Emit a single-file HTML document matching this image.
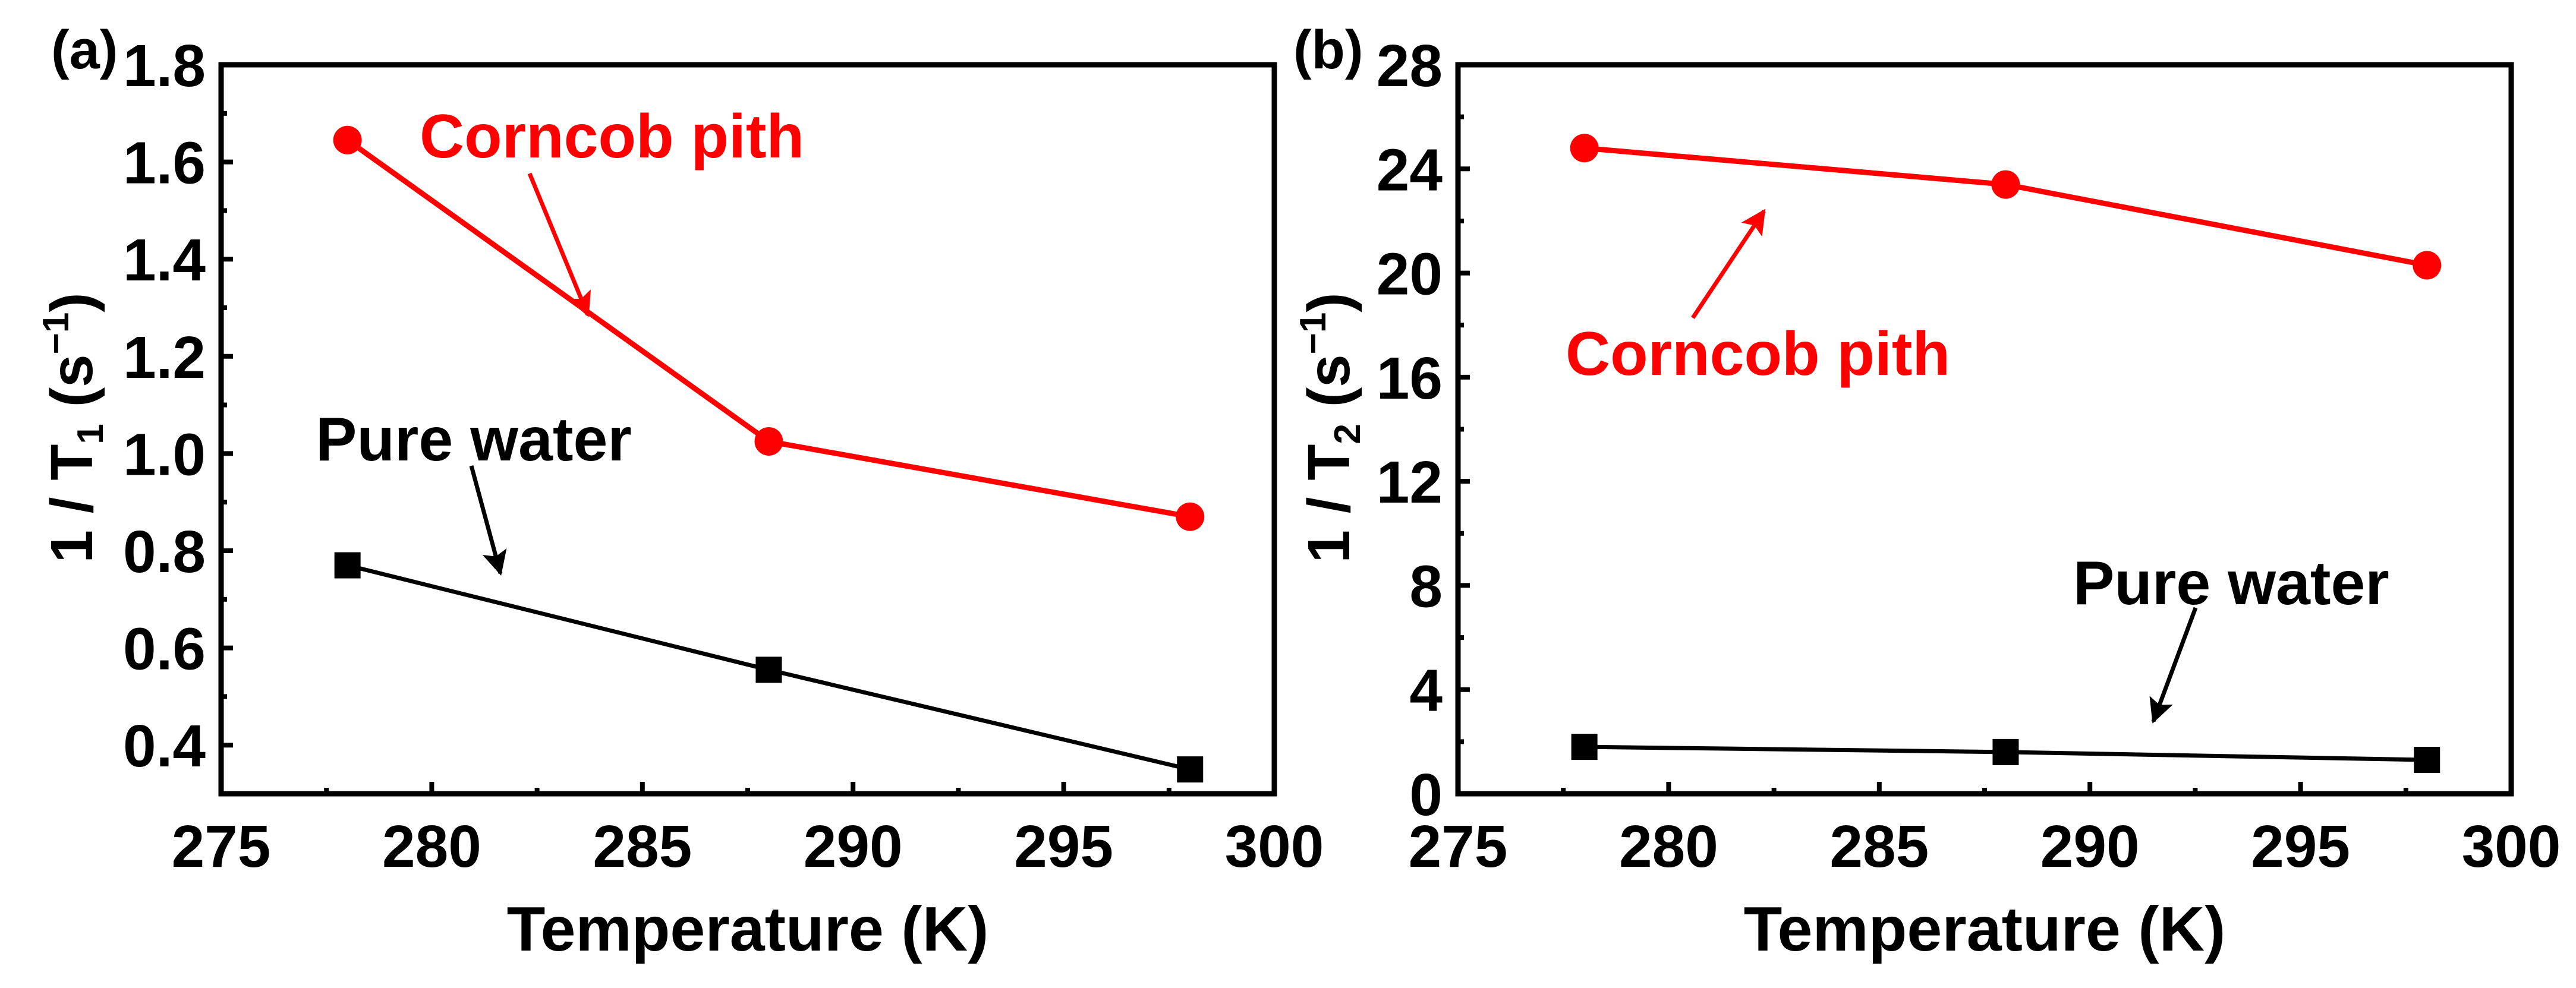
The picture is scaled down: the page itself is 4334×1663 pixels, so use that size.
<!DOCTYPE html>
<html><head><meta charset="utf-8"><style>
html,body{margin:0;padding:0;background:#fff;}
svg{display:block;font-family:"Liberation Sans",Arial,sans-serif;font-weight:bold;}
</style></head><body>
<svg id="fig" width="4334" height="1663" viewBox="0 0 4334 1663" xmlns="http://www.w3.org/2000/svg"></svg>
<script>
const temps = [278, 288, 298];
const t1Corncob = [1.645, 1.025, 0.87];
const t1Water = [0.77, 0.555, 0.35];
const t2Corncob = [24.8, 23.4, 20.3];
const t2Water = [1.8, 1.6, 1.3];
const xTicks = [275, 280, 285, 290, 295, 300];
const yTicksA = [0.4, 0.6, 0.8, 1.0, 1.2, 1.4, 1.6, 1.8];
const yTicksB = [0, 4, 8, 12, 16, 20, 24, 28];

const NS = "http://www.w3.org/2000/svg";
const svg = document.getElementById('fig');
function mk(tag, attrs, parent) {
  const e = document.createElementNS(NS, tag);
  for (const k in attrs) e.setAttribute(k, attrs[k]);
  (parent || svg).appendChild(e);
  return e;
}
const defs = mk('defs', {});
['red', 'black'].forEach(c => {
  const m = mk('marker', {id: 'ah-' + c, viewBox: '0 0 10 10', refX: '9', refY: '5', markerWidth: '8', markerHeight: '6', orient: 'auto', markerUnits: 'strokeWidth'}, defs);
  mk('path', {d: 'M0,0 L10,5 L0,10 L2,5 z', fill: c === 'red' ? '#ff0000' : '#000'}, m);
});

function panel(cfg) {
  const g = mk('g', {});
  
  
  const L = cfg.left, R = cfg.left + 1772, T = 109, B = 1336;
  const xs = v => L + (v - 275) / 25 * (R - L);
  const ys = v => B - (v - cfg.ymin) / (cfg.ymax - cfg.ymin) * (B - T);
  xTicks.forEach((t, i) => {
    const tk = mk('line', {x1: xs(t), x2: xs(t), y1: B, y2: B - 20, stroke: '#000', 'stroke-width': 8}, g);
    
    
    if (i < xTicks.length - 1) {
      const mn = mk('line', {x1: xs(t + 2.5), x2: xs(t + 2.5), y1: B, y2: B - 10, stroke: '#000', 'stroke-width': 8}, g);
      
      
    }
    const lb = mk('text', {x: xs(t), y: 1459, 'font-size': 100, 'text-anchor': 'middle', fill: '#000'}, g);
    lb.textContent = t;
    
    
  });
  cfg.yticks.forEach((t, i) => {
    const tk = mk('line', {x1: L, x2: L + 20, y1: ys(t), y2: ys(t), stroke: '#000', 'stroke-width': 8}, g);
    
    
    const half = cfg.ystep / 2;
    if (t - half > cfg.ymin - 1e-9) {
      const mn = mk('line', {x1: L, x2: L + 10, y1: ys(t - half), y2: ys(t - half), stroke: '#000', 'stroke-width': 8}, g);
      
      
    }
    const lb = mk('text', {x: L - 26, y: ys(t) + 36, 'font-size': 100, 'text-anchor': 'end', fill: '#000'}, g);
    lb.textContent = cfg.fmt(t);
    
    
  });
  const box = mk('rect', {x: L, y: T, width: R - L, height: B - T, fill: 'none', stroke: '#000', 'stroke-width': 9}, g);
  
  
  function series(vals, color, shape, nm, sw) {
    const pts = temps.map((t, i) => xs(t) + ',' + ys(vals[i])).join(' ');
    const pl = mk('polyline', {points: pts, fill: 'none', stroke: color, 'stroke-width': sw}, g);
    
    
    temps.forEach((t, i) => {
      let m;
      if (shape === 'circle') m = mk('circle', {cx: xs(t), cy: ys(vals[i]), r: 24, fill: color}, g);
      else m = mk('rect', {x: xs(t) - 22, y: ys(vals[i]) - 22, width: 44, height: 44, fill: color}, g);
      
      
    });
  }
  series(cfg.water, '#000', 'square', 'pure-water', 7);
  series(cfg.corn, '#ff0000', 'circle', 'corncob-pith', 9);
  const xt = mk('text', {x: (L + R) / 2, y: 1600, 'font-size': 106, 'text-anchor': 'middle', fill: '#000'}, g);
  xt.textContent = 'Temperature (K)';
  
  
  const yt = mk('text', {x: 0, y: 0, 'font-size': 100, 'text-anchor': 'middle', fill: '#000', transform: `translate(${cfg.ytx},720) rotate(-90)`}, g);
  yt.innerHTML = `1 / T<tspan font-size="62" dy="18">${cfg.sub}</tspan><tspan dy="-18"> (s</tspan><tspan font-size="62" dy="-40">−1</tspan><tspan dy="40">)</tspan>`;
  
  
  const pl = mk('text', {x: cfg.labelX, y: 115, 'font-size': 92, fill: '#000'}, g);
  pl.textContent = cfg.label;
  
  
  cfg.ann.forEach(a => {
    const tx = mk('text', {x: a.tx, y: a.ty, 'font-size': 104, fill: a.c}, g);
    tx.textContent = a.text;
    
    
    const ar = mk('line', {x1: a.x1, y1: a.y1, x2: a.x2, y2: a.y2, stroke: a.c, 'stroke-width': 7, 'marker-end': `url(#ah-${a.c === '#ff0000' ? 'red' : 'black'})`}, g);
    
    
  });
}
panel({name: 'panel-a', left: 372, ymin: 0.3, ymax: 1.8, yticks: yTicksA, ystep: 0.2, fmt: v => v.toFixed(1),
  corn: t1Corncob, water: t1Water, sub: '1', ytx: 155, label: '(a)', labelX: 86,
  ann: [
    {text: 'Corncob pith', tx: 706, ty: 265, c: '#ff0000', nm: 'corncob-pith', x1: 891, y1: 292, x2: 989, y2: 530},
    {text: 'Pure water', tx: 531, ty: 775, c: '#000', nm: 'pure-water', x1: 793, y1: 784, x2: 842, y2: 965}
  ]});
panel({name: 'panel-b', left: 2453, ymin: 0, ymax: 28, yticks: yTicksB, ystep: 4, fmt: v => String(v),
  corn: t2Corncob, water: t2Water, sub: '2', ytx: 2270, label: '(b)', labelX: 2176,
  ann: [
    {text: 'Corncob pith', tx: 2634, ty: 631, c: '#ff0000', nm: 'corncob-pith', x1: 2848, y1: 535, x2: 2968, y2: 355},
    {text: 'Pure water', tx: 3488, ty: 1017, c: '#000', nm: 'pure-water', x1: 3694, y1: 1023, x2: 3623, y2: 1214}
  ]});
</script>
</body></html>
